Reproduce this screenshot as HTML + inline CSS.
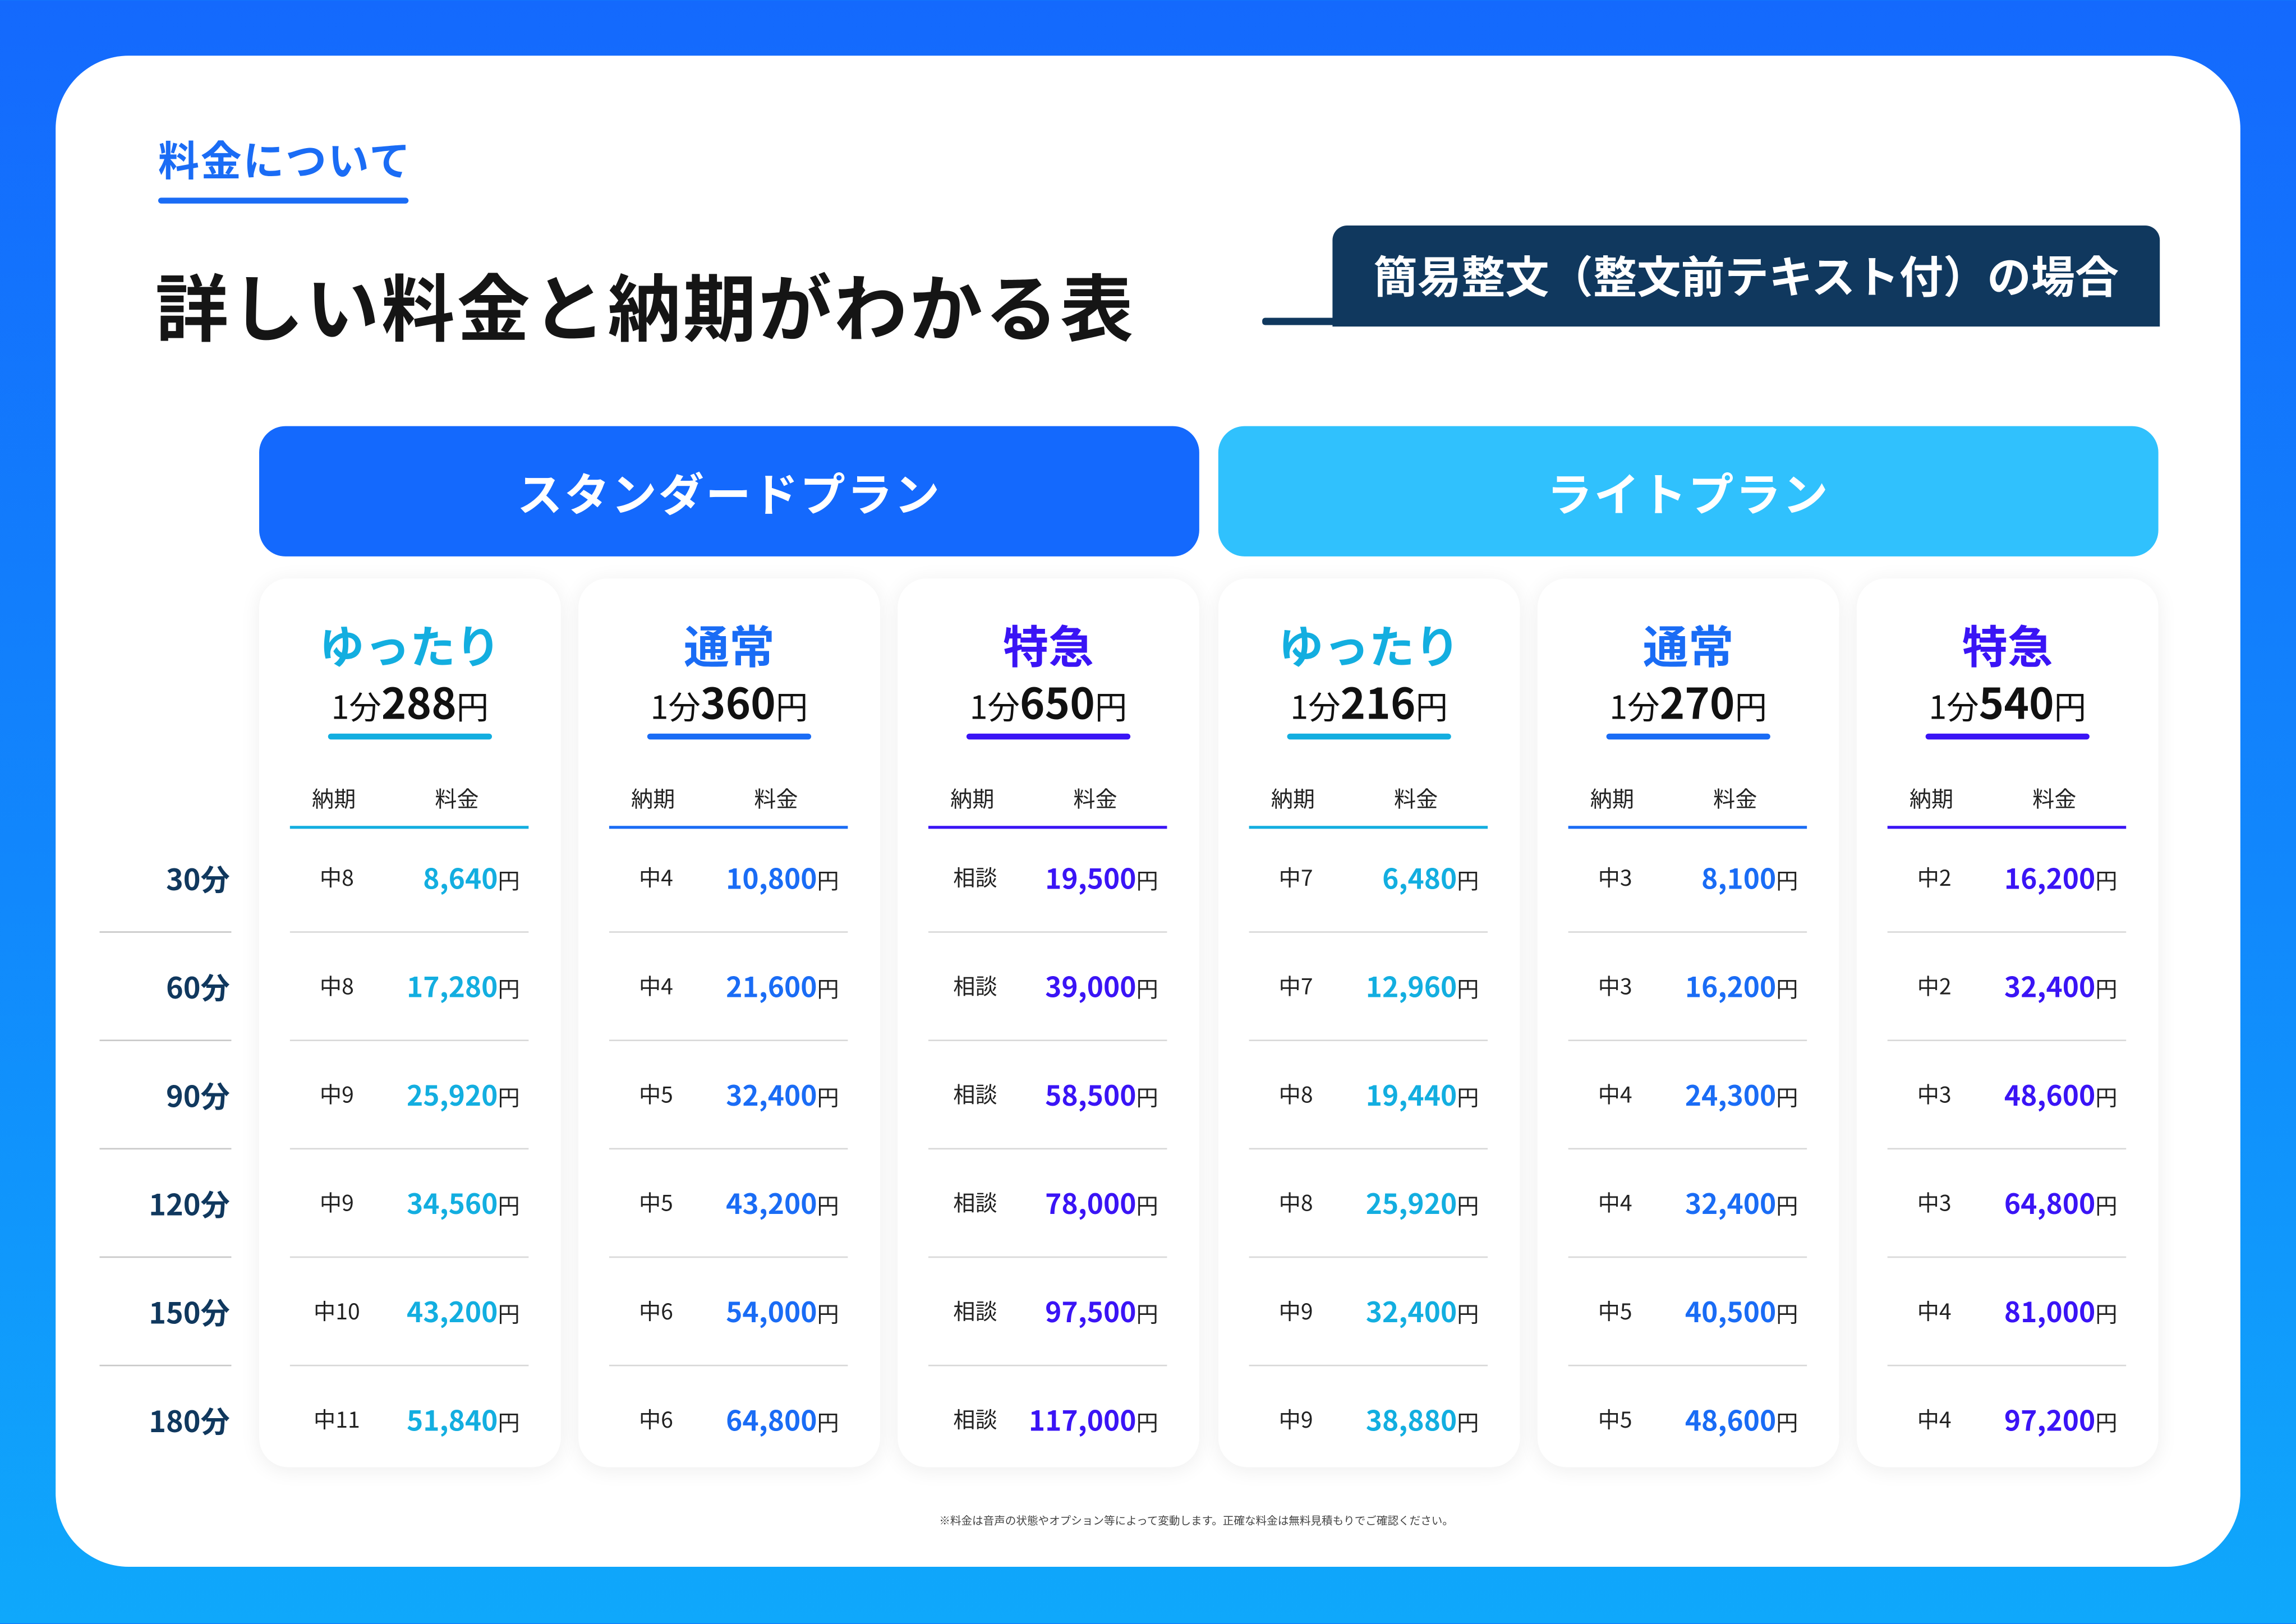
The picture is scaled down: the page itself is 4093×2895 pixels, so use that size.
<!DOCTYPE html>
<html><head><meta charset="utf-8"><style>
html,body{margin:0;padding:0;}
body{width:4093px;height:2894px;overflow:hidden;background:linear-gradient(180deg,#1469fd 0%,#1188fc 55%,#0fa8fb 100%);font-family:"Liberation Sans","Noto Sans CJK JP",sans-serif;}
#w{position:absolute;left:0;top:0;width:1568px;height:1109px;transform:scale(2.61033);transform-origin:0 0;}
.abs{position:absolute;}
#card{left:38px;top:38px;width:1492px;height:1032px;background:#fff;border-radius:50px;}
.jp{font-family:"Noto Sans CJK JP",sans-serif;}
.plan{top:291px;height:89px;width:642px;border-radius:18px;color:#fff;font-weight:700;font-size:31px;letter-spacing:1.2px;text-align:center;line-height:89px;}
.c{top:395px;width:206px;height:607px;background:#fff;border-radius:20px;box-shadow:0 2px 14px rgba(0,0,0,0.07);}
.c .t{position:absolute;left:0;width:206px;top:27px;line-height:36px;text-align:center;font-size:31px;font-weight:700;}
.c .p{position:absolute;left:0;width:206px;top:68px;line-height:32px;text-align:center;font-size:22px;color:#111;}
.c .p b{font-size:29px;font-weight:700;}
.c .u{position:absolute;left:47px;width:112px;top:106px;height:4px;border-radius:2px;}
.c .h{position:absolute;top:140px;line-height:22px;font-size:15px;color:#222;width:60px;text-align:center;}
.c .ln{position:absolute;left:21px;width:163px;top:169px;height:1.5px;}
.c .s{position:absolute;left:21px;width:163px;height:1px;background:#d8d8d8;}
.c .d{position:absolute;left:23px;width:60px;text-align:center;font-size:15px;color:#222;line-height:24px;}
.c .v{position:absolute;right:28px;text-align:right;font-size:19px;font-weight:700;line-height:24px;white-space:nowrap;}
.c .v span{font-size:15px;font-weight:400;color:#222;}
.rl{position:absolute;left:67px;width:90px;text-align:right;font-size:20px;font-weight:700;color:#10385e;line-height:24px;}
.rs{position:absolute;left:68px;width:90px;height:1px;background:#c8c8c8;}
.k1{color:#13aee0}.k2{color:#1a6cf5}.k3{color:#3a14f5}
.b1{background:#13aee0}.b2{background:#1a6cf5}.b3{background:#3a14f5}
</style></head><body><div id="w">
<div id="card" class="abs"></div>
<div class="abs jp" style="left:108px;top:90px;font-size:28px;font-weight:700;color:#1a6cf5;line-height:38px;letter-spacing:1px;">料金について</div>
<div class="abs" style="left:108px;top:135px;width:171px;height:4px;border-radius:2px;background:#1a6cf5;"></div>
<div class="abs jp" style="left:106px;top:176px;font-size:50px;font-weight:700;color:#151515;line-height:64px;letter-spacing:1.5px;">詳しい料金と納期がわかる表</div>
<div class="abs" style="left:862px;top:217px;width:60px;height:5px;border-radius:2px;background:#10385e;"></div>
<div class="abs jp" style="left:910px;top:154px;width:565px;height:69px;background:#10385e;border-radius:10px 10px 0 0;color:#fff;font-size:30px;font-weight:700;line-height:66px;text-align:center;">簡易整文（整文前テキスト付）の場合</div>
<div class="abs plan jp" style="left:177px;background:#1469fd;">スタンダードプラン</div>
<div class="abs plan jp" style="left:832px;background:#30c1fd;">ライトプラン</div>

<div class="rl jp" style="top:588px">30分</div>
<div class="rl jp" style="top:662px">60分</div>
<div class="rl jp" style="top:736px">90分</div>
<div class="rl jp" style="top:810px">120分</div>
<div class="rl jp" style="top:884px">150分</div>
<div class="rl jp" style="top:958px">180分</div>
<div class="rs" style="top:636px"></div><div class="rs" style="top:710px"></div><div class="rs" style="top:784px"></div><div class="rs" style="top:858px"></div><div class="rs" style="top:932px"></div>

<div class="abs c jp" style="left:177px">
<div class="t k1">ゆったり</div><div class="p">1分<b>288</b>円</div><div class="u b1"></div>
<div class="h" style="left:21px">納期</div><div class="h" style="left:105px">料金</div><div class="ln b1"></div>
<div class="s" style="top:241px"></div><div class="s" style="top:315px"></div><div class="s" style="top:389px"></div><div class="s" style="top:463px"></div><div class="s" style="top:537px"></div>
<div class="d" style="top:193px">中8</div><div class="v k1" style="top:193px">8,640<span>円</span></div>
<div class="d" style="top:267px">中8</div><div class="v k1" style="top:267px">17,280<span>円</span></div>
<div class="d" style="top:341px">中9</div><div class="v k1" style="top:341px">25,920<span>円</span></div>
<div class="d" style="top:415px">中9</div><div class="v k1" style="top:415px">34,560<span>円</span></div>
<div class="d" style="top:489px">中10</div><div class="v k1" style="top:489px">43,200<span>円</span></div>
<div class="d" style="top:563px">中11</div><div class="v k1" style="top:563px">51,840<span>円</span></div>
</div>
<div class="abs c jp" style="left:395px">
<div class="t k2">通常</div><div class="p">1分<b>360</b>円</div><div class="u b2"></div>
<div class="h" style="left:21px">納期</div><div class="h" style="left:105px">料金</div><div class="ln b2"></div>
<div class="s" style="top:241px"></div><div class="s" style="top:315px"></div><div class="s" style="top:389px"></div><div class="s" style="top:463px"></div><div class="s" style="top:537px"></div>
<div class="d" style="top:193px">中4</div><div class="v k2" style="top:193px">10,800<span>円</span></div>
<div class="d" style="top:267px">中4</div><div class="v k2" style="top:267px">21,600<span>円</span></div>
<div class="d" style="top:341px">中5</div><div class="v k2" style="top:341px">32,400<span>円</span></div>
<div class="d" style="top:415px">中5</div><div class="v k2" style="top:415px">43,200<span>円</span></div>
<div class="d" style="top:489px">中6</div><div class="v k2" style="top:489px">54,000<span>円</span></div>
<div class="d" style="top:563px">中6</div><div class="v k2" style="top:563px">64,800<span>円</span></div>
</div>
<div class="abs c jp" style="left:613px">
<div class="t k3">特急</div><div class="p">1分<b>650</b>円</div><div class="u b3"></div>
<div class="h" style="left:21px">納期</div><div class="h" style="left:105px">料金</div><div class="ln b3"></div>
<div class="s" style="top:241px"></div><div class="s" style="top:315px"></div><div class="s" style="top:389px"></div><div class="s" style="top:463px"></div><div class="s" style="top:537px"></div>
<div class="d" style="top:193px">相談</div><div class="v k3" style="top:193px">19,500<span>円</span></div>
<div class="d" style="top:267px">相談</div><div class="v k3" style="top:267px">39,000<span>円</span></div>
<div class="d" style="top:341px">相談</div><div class="v k3" style="top:341px">58,500<span>円</span></div>
<div class="d" style="top:415px">相談</div><div class="v k3" style="top:415px">78,000<span>円</span></div>
<div class="d" style="top:489px">相談</div><div class="v k3" style="top:489px">97,500<span>円</span></div>
<div class="d" style="top:563px">相談</div><div class="v k3" style="top:563px">117,000<span>円</span></div>
</div>
<div class="abs c jp" style="left:832px">
<div class="t k1">ゆったり</div><div class="p">1分<b>216</b>円</div><div class="u b1"></div>
<div class="h" style="left:21px">納期</div><div class="h" style="left:105px">料金</div><div class="ln b1"></div>
<div class="s" style="top:241px"></div><div class="s" style="top:315px"></div><div class="s" style="top:389px"></div><div class="s" style="top:463px"></div><div class="s" style="top:537px"></div>
<div class="d" style="top:193px">中7</div><div class="v k1" style="top:193px">6,480<span>円</span></div>
<div class="d" style="top:267px">中7</div><div class="v k1" style="top:267px">12,960<span>円</span></div>
<div class="d" style="top:341px">中8</div><div class="v k1" style="top:341px">19,440<span>円</span></div>
<div class="d" style="top:415px">中8</div><div class="v k1" style="top:415px">25,920<span>円</span></div>
<div class="d" style="top:489px">中9</div><div class="v k1" style="top:489px">32,400<span>円</span></div>
<div class="d" style="top:563px">中9</div><div class="v k1" style="top:563px">38,880<span>円</span></div>
</div>
<div class="abs c jp" style="left:1050px">
<div class="t k2">通常</div><div class="p">1分<b>270</b>円</div><div class="u b2"></div>
<div class="h" style="left:21px">納期</div><div class="h" style="left:105px">料金</div><div class="ln b2"></div>
<div class="s" style="top:241px"></div><div class="s" style="top:315px"></div><div class="s" style="top:389px"></div><div class="s" style="top:463px"></div><div class="s" style="top:537px"></div>
<div class="d" style="top:193px">中3</div><div class="v k2" style="top:193px">8,100<span>円</span></div>
<div class="d" style="top:267px">中3</div><div class="v k2" style="top:267px">16,200<span>円</span></div>
<div class="d" style="top:341px">中4</div><div class="v k2" style="top:341px">24,300<span>円</span></div>
<div class="d" style="top:415px">中4</div><div class="v k2" style="top:415px">32,400<span>円</span></div>
<div class="d" style="top:489px">中5</div><div class="v k2" style="top:489px">40,500<span>円</span></div>
<div class="d" style="top:563px">中5</div><div class="v k2" style="top:563px">48,600<span>円</span></div>
</div>
<div class="abs c jp" style="left:1268px">
<div class="t k3">特急</div><div class="p">1分<b>540</b>円</div><div class="u b3"></div>
<div class="h" style="left:21px">納期</div><div class="h" style="left:105px">料金</div><div class="ln b3"></div>
<div class="s" style="top:241px"></div><div class="s" style="top:315px"></div><div class="s" style="top:389px"></div><div class="s" style="top:463px"></div><div class="s" style="top:537px"></div>
<div class="d" style="top:193px">中2</div><div class="v k3" style="top:193px">16,200<span>円</span></div>
<div class="d" style="top:267px">中2</div><div class="v k3" style="top:267px">32,400<span>円</span></div>
<div class="d" style="top:341px">中3</div><div class="v k3" style="top:341px">48,600<span>円</span></div>
<div class="d" style="top:415px">中3</div><div class="v k3" style="top:415px">64,800<span>円</span></div>
<div class="d" style="top:489px">中4</div><div class="v k3" style="top:489px">81,000<span>円</span></div>
<div class="d" style="top:563px">中4</div><div class="v k3" style="top:563px">97,200<span>円</span></div>
</div>

<div class="abs jp" style="left:517px;width:600px;top:1032px;text-align:center;font-size:7.5px;color:#444;line-height:14px;">※料金は音声の状態やオプション等によって変動します。正確な料金は無料見積もりでご確認ください。</div>
</div></body></html>
